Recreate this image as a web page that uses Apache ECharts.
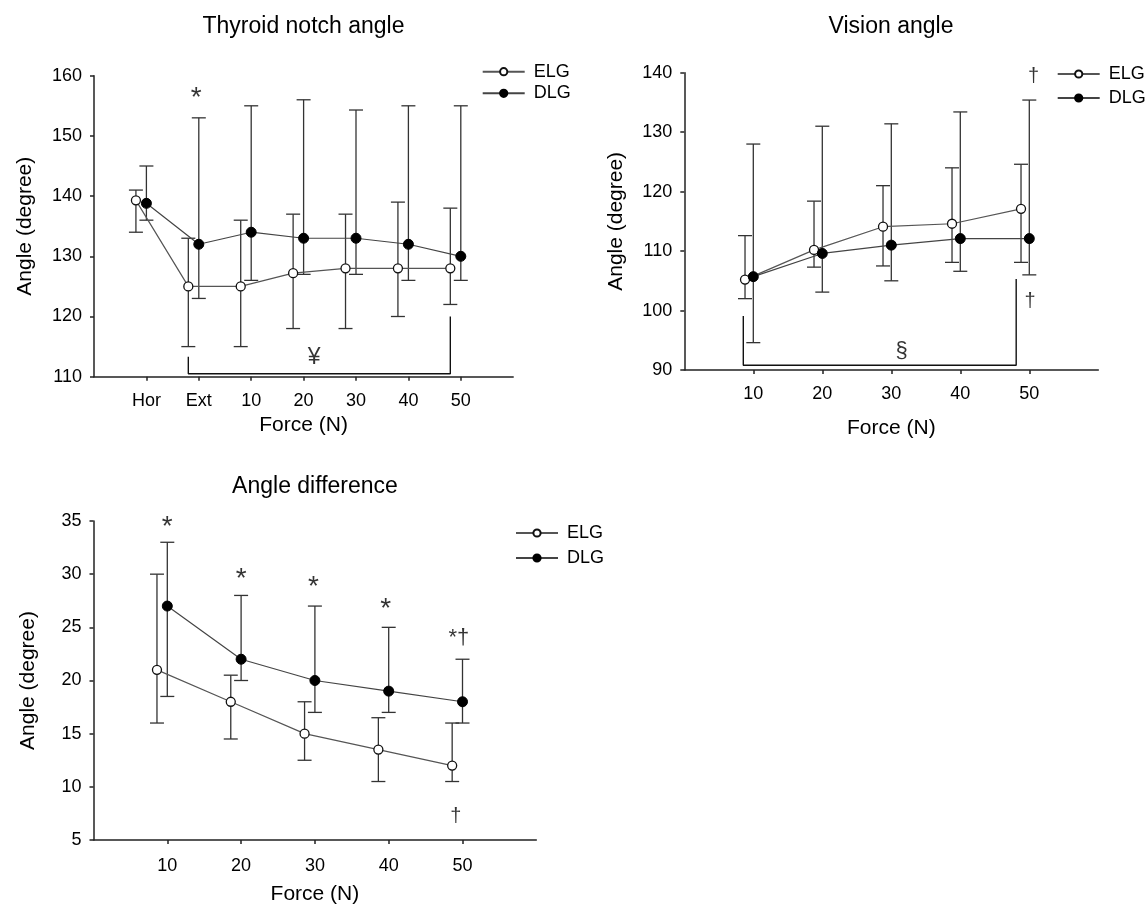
<!DOCTYPE html>
<html><head><meta charset="utf-8">
<script src="https://cdn.jsdelivr.net/npm/echarts@6/dist/echarts.min.js"></script>
<style>html,body{margin:0;padding:0;background:#fff}#c{width:1147px;height:913px}</style>
</head><body><div id="c"></div>
<script>
// ---------- data ----------
const thyroidLabels = ['Hor','Ext','10','20','30','40','50'];
const thyroidPos = [1,2,3,4,5,6,7];
const thyroidElgMean = [139.3,125,125,127.2,128,128,128];
const thyroidElgLow  = [134,115,115,118,118,120,122];
const thyroidElgHigh = [141,133,136,137,137,139,138];
const thyroidDlgMean = [138.8,132,134,133,133,132,130];
const thyroidDlgLow  = [136,123,126,127,127,126,126];
const thyroidDlgHigh = [145,153,155,156,154.3,155,155];

const forceValues = [10,20,30,40,50];
const visionElgMean = [105.2,110.2,114.1,114.6,117.1];
const visionElgLow  = [102,107.3,107.5,108.1,108.1];
const visionElgHigh = [112.6,118.4,121,124,124.6];
const visionDlgMean = [105.7,109.6,111,112.1,112.1];
const visionDlgLow  = [94.6,103.1,105,106.6,106];
const visionDlgHigh = [128,131,131.4,133.4,135.4];

const diffElgMean = [21,18,15,13.5,12];
const diffElgLow  = [16,14.5,12.5,10.5,10.5];
const diffElgHigh = [30,20.5,18,16.5,16];
const diffDlgMean = [27,22,20,19,18];
const diffDlgLow  = [18.5,20,17,17,16];
const diffDlgHigh = [33,28,27,25,22];

// annotations: [x, y, text] and significance brackets [x, y]
const thyroidNotes = [[1.95,157.3,'*'],[4.2,113.1,'¥']];
const thyroidBracket = [[1.8,113.3],[1.8,110.5],[6.8,110.5],[6.8,120]];
const visionNotes = [[50.6,139,'†'],[50.1,101.2,'†'],[31.5,92.8,'§']];
const visionBracket = [[8.55,99.1],[8.55,90.8],[48.1,90.8],[48.1,105.3]];
const diffNotes = [[10,35,'*'],[20,30.1,'*'],[29.8,29.3,'*'],[39.6,27.3,'*'],[49.5,23.8,'*†'],[49.1,7.0,'†']];

// ---------- layout / style ----------
const FONT = '"Liberation Sans", Arial, sans-serif';
const SHIFT = [-0.2, -1.2, -1.4]; // ELG drawn slightly left of DLG
const grids = [
  {left:94, top:75.7, width:419.2, height:301},
  {left:684.3, top:72.7, width:414, height:297.3},
  {left:93.5, top:521, width:442.8, height:319}
];

function pts(xs, ys, shift){ return xs.map((x,i)=>[x+shift, ys[i]]); }
function bars(xs, lo, hi, shift){ return xs.map((x,i)=>[x+shift, lo[i], hi[i]]); }

function errSeries(idx, data){
  return {
    type:'custom', xAxisIndex:idx, yAxisIndex:idx, z:1, silent:true,
    data, encode:{x:0, y:[1,2]},
    renderItem(params, api){
      const x = api.value(0);
      const a = api.coord([x, api.value(1)]);
      const b = api.coord([x, api.value(2)]);
      const w = 7;
      const st = {stroke:'#333', lineWidth:1.3};
      return {type:'group', children:[
        {type:'line', shape:{x1:a[0], y1:a[1], x2:b[0], y2:b[1]}, style:st},
        {type:'line', shape:{x1:a[0]-w, y1:a[1], x2:a[0]+w, y2:a[1]}, style:st},
        {type:'line', shape:{x1:b[0]-w, y1:b[1], x2:b[0]+w, y2:b[1]}, style:st}
      ]};
    }
  };
}
function elgSeries(idx, data){
  return {type:'line', name:'ELG', xAxisIndex:idx, yAxisIndex:idx, z:3, data,
    symbol:'circle', symbolSize:9,
    itemStyle:{color:'#fff', borderColor:'#111', borderWidth:1.3},
    lineStyle:{color:'#555', width:1.2}, animation:false};
}
function dlgSeries(idx, data){
  return {type:'line', name:'DLG', xAxisIndex:idx, yAxisIndex:idx, z:4, data,
    symbol:'circle', symbolSize:10,
    itemStyle:{color:'#000', borderColor:'#000', borderWidth:1},
    lineStyle:{color:'#444', width:1.2}, animation:false};
}
function bracketSeries(idx, data){
  return {type:'line', xAxisIndex:idx, yAxisIndex:idx, z:2, data, symbol:'none',
    lineStyle:{color:'#111', width:1.4}, silent:true, animation:false, legendHoverLink:false};
}
const glyphSize = {'*':28, '†':20, '¥':23, '§':22, '*†':22};
const glyphOffset = {'*':[0,6], '†':[0,-2], '¥':[0,0], '§':[0,-2], '*†':[0,-2]};
function noteSeries(idx, data){
  return {type:'scatter', xAxisIndex:idx, yAxisIndex:idx, z:5, silent:true,
    symbolSize:0, data: data.map(d=>({value:[d[0],d[1]], name:d[2],
      label:{show:true, position:'inside', formatter:d[2], fontSize:glyphSize[d[2]],
        offset:glyphOffset[d[2]], color:'#000', fontFamily:FONT}})),
    animation:false};
}

const axisLineStyle = {color:'#222', width:1.5};
function xAxis(idx, min, max, ticks, fmt, margin, gap){
  return {type:'value', gridIndex:idx, min, max, name:'Force (N)', nameLocation:'middle', nameGap:gap,
    nameTextStyle:{fontSize:21, color:'#000', fontFamily:FONT},
    axisLine:{show:true, onZero:false, lineStyle:axisLineStyle},
    axisTick:{show:true, length:4, customValues:ticks, lineStyle:axisLineStyle},
    axisLabel:{customValues:ticks, formatter:fmt, fontSize:18, color:'#000', margin, fontFamily:FONT},
    splitLine:{show:false}};
}
function yAxis(idx, min, max, interval, gap){
  return {type:'value', gridIndex:idx, min, max, interval, name:'Angle (degree)', nameLocation:'middle', nameGap:gap,
    nameTextStyle:{fontSize:21, color:'#000', fontFamily:FONT},
    axisLine:{show:true, onZero:false, lineStyle:axisLineStyle},
    axisTick:{show:true, length:4, lineStyle:axisLineStyle},
    axisLabel:{fontSize:18, color:'#000', margin:12, fontFamily:FONT},
    splitLine:{show:false}};
}
function legend(left, top, gap){
  return {data:['ELG','DLG'], orient:'vertical', left, top, padding:0, itemGap:gap, itemWidth:42, itemHeight:9,
    selectedMode:false,
    textStyle:{fontSize:18, color:'#000', fontFamily:FONT, padding:[0,0,0,4]}};
}
function title(text, x, y){
  return {type:'text', x, y, style:{text, align:'center', verticalAlign:'middle', fontSize:23, fill:'#000', fontFamily:FONT}};
}

const option = {
  backgroundColor:'#fff',
  animation:false,
  grid: grids.map(g=>Object.assign({containLabel:false}, g)),
  xAxis:[
    xAxis(0, 0, 8, thyroidPos, v => thyroidLabels[thyroidPos.indexOf(v)] ?? '', 15, 38),
    xAxis(1, 0, 60, forceValues, v => String(v), 15, 48),
    xAxis(2, 0, 60, forceValues, v => String(v), 17, 44)
  ],
  yAxis:[
    yAxis(0, 110, 160, 10, 58),
    yAxis(1, 90, 140, 10, 58),
    yAxis(2, 5, 35, 5, 55)
  ],
  legend:[legend(481.7, 62.7, 3.6), legend(1056.7, 65, 6), legend(515, 524, 7)],
  graphic:[
    title('Thyroid notch angle', 303.5, 27),
    title('Vision angle', 891, 27),
    title('Angle difference', 315, 487)
  ],
  series:[
    errSeries(0, bars(thyroidPos, thyroidElgLow, thyroidElgHigh, SHIFT[0])),
    errSeries(0, bars(thyroidPos, thyroidDlgLow, thyroidDlgHigh, 0)),
    bracketSeries(0, thyroidBracket),
    elgSeries(0, pts(thyroidPos, thyroidElgMean, SHIFT[0])),
    dlgSeries(0, pts(thyroidPos, thyroidDlgMean, 0)),
    noteSeries(0, thyroidNotes),

    errSeries(1, bars(forceValues, visionElgLow, visionElgHigh, SHIFT[1])),
    errSeries(1, bars(forceValues, visionDlgLow, visionDlgHigh, 0)),
    bracketSeries(1, visionBracket),
    elgSeries(1, pts(forceValues, visionElgMean, SHIFT[1])),
    dlgSeries(1, pts(forceValues, visionDlgMean, 0)),
    noteSeries(1, visionNotes),

    errSeries(2, bars(forceValues, diffElgLow, diffElgHigh, SHIFT[2])),
    errSeries(2, bars(forceValues, diffDlgLow, diffDlgHigh, 0)),
    elgSeries(2, pts(forceValues, diffElgMean, SHIFT[2])),
    dlgSeries(2, pts(forceValues, diffDlgMean, 0)),
    noteSeries(2, diffNotes)
  ]
};
const chart = echarts.init(document.getElementById('c'), null, {renderer:'canvas'});
chart.setOption(option);
</script>
</body></html>
